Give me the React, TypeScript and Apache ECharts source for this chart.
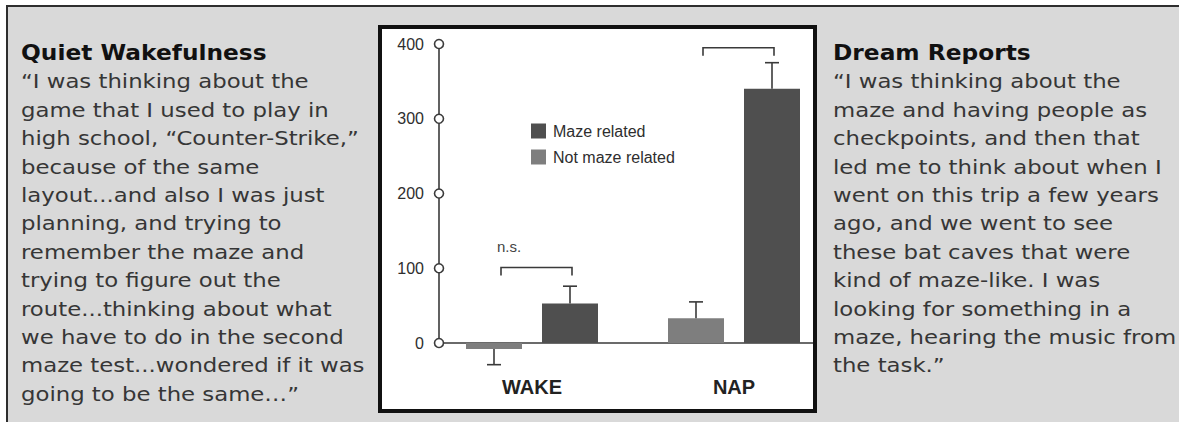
import React, { useEffect, useRef } from "react";
import * as echarts from "echarts";

// ---------- data ----------
const CATEGORIES = ["WAKE", "NAP"];
const SERIES_NAMES = ["Not maze related", "Maze related"];
const NOT_MAZE = [-8, 33];
const NOT_MAZE_ERR = [21, 22];
const MAZE = [53, 340];
const MAZE_ERR = [23, 35];
const Y_TICKS = [0, 100, 200, 300, 400];
const BRACKET_CATS = [0, 1];
const BRACKET_LEVELS = [101, 395];
const BRACKET_LABELS = ["n.s.", ""];

const LEFT_TITLE = "Quiet Wakefulness";
const LEFT_LINES = [
  "\u201CI was thinking about the",
  "game that I used to play in",
  "high school, \u201CCounter-Strike,\u201D",
  "because of the same",
  "layout...and also I was just",
  "planning, and trying to",
  "remember the maze and",
  "trying to figure out the",
  "route...thinking about what",
  "we have to do in the second",
  "maze test...wondered if it was",
  "going to be the same\u2026\u201D",
];
const RIGHT_TITLE = "Dream Reports";
const RIGHT_LINES = [
  "\u201CI was thinking about the",
  "maze and having people as",
  "checkpoints, and then that",
  "led me to think about when I",
  "went on this trip a few years",
  "ago, and we went to see",
  "these bat caves that were",
  "kind of maze-like. I was",
  "looking for something in a",
  "maze, hearing the music from",
  "the task.\u201D",
];

// ---------- styles ----------
const W = 1179;
const H = 422;
const BAR_WIDTH = 56;
const BAR_GAP_PX = 20;
const BAR_OFFSET = (BAR_WIDTH + BAR_GAP_PX) / 2;
const MAZE_COLOR = "#4f4f4f";
const NOT_MAZE_COLOR = "#7e7e7e";
const AXIS_COLOR = "#3a3a3a";
const BG_GRAY = "#d9d9d9";
const TEXT_FONT = "DejaVu Sans";
const CHART_FONT = "Liberation Sans";
const LINE_H = 28.4;
const BODY_STRETCH = 1.2;
const TITLE_STRETCH = 1.06;

function errorBarSeries(values: number[], errs: number[], offset: number) {
  return {
    type: "custom",
    xAxisIndex: 1,
    yAxisIndex: 1,
    z: 5,
    silent: true,
    data: values.map((v, i) => [i, v, errs[i]]),
    renderItem: (_params: any, api: any) => {
      const i = api.value(0);
      const v = api.value(1);
      const e = api.value(2);
      const sign = v < 0 ? -1 : 1;
      const p0 = api.coord([i, v]);
      const p1 = api.coord([i, v + sign * e]);
      const x = p0[0] + offset;
      return {
        type: "group",
        children: [
          {
            type: "line",
            shape: { x1: x, y1: p0[1], x2: x, y2: p1[1] },
            style: { stroke: AXIS_COLOR, lineWidth: 1.6 },
          },
          {
            type: "line",
            shape: { x1: x - 7, y1: p1[1], x2: x + 7, y2: p1[1] },
            style: { stroke: AXIS_COLOR, lineWidth: 1.6 },
          },
        ],
      };
    },
  };
}

function textBlock(x: number, title: string, lines: string[]) {
  return [
    {
      type: "text",
      z: 10,
      x,
      y: 52,
      scaleX: TITLE_STRETCH,
      style: {
        text: title,
        font: `bold 22px "${TEXT_FONT}"`,
        fill: "#111111",
        verticalAlign: "middle",
      },
    },
    {
      type: "text",
      z: 10,
      x,
      y: 82 - LINE_H / 2,
      scaleX: BODY_STRETCH,
      style: {
        text: lines.join("\n"),
        font: `19px "${TEXT_FONT}"`,
        fill: "#363636",
        lineHeight: LINE_H,
        verticalAlign: "top",
      },
    },
  ];
}

export default function App() {
  const ref = useRef<HTMLDivElement>(null);

  useEffect(() => {
    if (!ref.current) return;
    const chart = echarts.init(ref.current, undefined, { renderer: "svg" });

    const option: any = {
      animation: false,
      backgroundColor: "#ffffff",
      graphic: [
        {
          type: "rect",
          z: -10,
          silent: true,
          shape: { x: 7, y: 6, width: W + 40, height: H + 40 },
          style: { fill: BG_GRAY },
        },
        {
          type: "line",
          z: -8,
          silent: true,
          shape: { x1: 6, y1: 6, x2: W + 10, y2: 6 },
          style: { stroke: "#2e2e2e", lineWidth: 2 },
        },
        {
          type: "line",
          z: -8,
          silent: true,
          shape: { x1: 7, y1: 5, x2: 7, y2: H + 10 },
          style: { stroke: "#2e2e2e", lineWidth: 2 },
        },
        {
          type: "rect",
          z: -9,
          silent: true,
          shape: { x: 380, y: 27, width: 435, height: 383 },
          style: { fill: "#ffffff" },
        },
        {
          type: "rect",
          z: 100,
          silent: true,
          shape: { x: 380, y: 27, width: 435, height: 384 },
          style: { fill: "none", stroke: "#111111", lineWidth: 4 },
        },
        ...textBlock(21, LEFT_TITLE, LEFT_LINES),
        ...textBlock(833, RIGHT_TITLE, RIGHT_LINES),
      ],
      legend: {
        data: ["Maze related", "Not maze related"],
        orient: "vertical",
        left: 531,
        top: 123,
        padding: 0,
        itemWidth: 15,
        itemHeight: 15,
        itemGap: 10,
        icon: "rect",
        selectedMode: false,
        textStyle: {
          fontFamily: CHART_FONT,
          fontSize: 16,
          color: "#2e2e2e",
          padding: [0, 0, 0, 2],
        },
      },
      grid: [
        { left: 439, right: W - 814, top: 44, bottom: H - 343 },
        { left: 431, right: W - 835, top: 44, bottom: H - 343 },
      ],
      xAxis: [
        {
          type: "value",
          gridIndex: 0,
          min: 0,
          max: 1,
          axisLine: { show: true, onZero: false, lineStyle: { color: AXIS_COLOR, width: 1.6 } },
          axisTick: { show: false },
          axisLabel: { show: false },
          splitLine: { show: false },
        },
        {
          type: "category",
          gridIndex: 1,
          data: CATEGORIES,
          axisLine: { show: false },
          axisTick: { show: false },
          splitLine: { show: false },
          axisLabel: {
            margin: 34,
            fontFamily: CHART_FONT,
            fontSize: 20,
            fontWeight: "bold",
            color: "#222222",
          },
        },
      ],
      yAxis: [
        {
          type: "value",
          gridIndex: 0,
          min: 0,
          max: 400,
          interval: 100,
          axisLine: { show: true, lineStyle: { color: AXIS_COLOR, width: 1.6 } },
          axisTick: { show: false },
          splitLine: { show: false },
          axisLabel: {
            margin: 15,
            fontFamily: CHART_FONT,
            fontSize: 16,
            color: "#2e2e2e",
          },
        },
        {
          type: "value",
          gridIndex: 1,
          min: 0,
          max: 400,
          interval: 100,
          show: false,
          splitLine: { show: false },
        },
      ],
      series: [
        {
          name: SERIES_NAMES[0],
          type: "bar",
          xAxisIndex: 1,
          yAxisIndex: 1,
          data: NOT_MAZE,
          barWidth: BAR_WIDTH,
          barGap: `${(BAR_GAP_PX / BAR_WIDTH) * 100}%`,
          clip: false,
          z: 3,
          itemStyle: { color: NOT_MAZE_COLOR },
          silent: true,
        },
        {
          name: SERIES_NAMES[1],
          type: "bar",
          xAxisIndex: 1,
          yAxisIndex: 1,
          data: MAZE,
          barWidth: BAR_WIDTH,
          barGap: `${(BAR_GAP_PX / BAR_WIDTH) * 100}%`,
          clip: false,
          z: 3,
          itemStyle: { color: MAZE_COLOR },
          silent: true,
        },
        errorBarSeries(NOT_MAZE, NOT_MAZE_ERR, -BAR_OFFSET),
        errorBarSeries(MAZE, MAZE_ERR, BAR_OFFSET),
        {
          type: "custom",
          xAxisIndex: 1,
          yAxisIndex: 1,
          z: 5,
          silent: true,
          data: BRACKET_CATS.map((c, i) => [c, BRACKET_LEVELS[i]]),
          renderItem: (params: any, api: any) => {
            const p = api.coord([api.value(0), api.value(1)]);
            const x1 = p[0] - BAR_OFFSET + 7;
            const x2 = p[0] + BAR_OFFSET + 2;
            const y = p[1];
            const label = BRACKET_LABELS[params.dataIndex];
            const children: any[] = [
              {
                type: "polyline",
                shape: { points: [[x1, y + 8], [x1, y], [x2, y], [x2, y + 8]] },
                style: { stroke: AXIS_COLOR, lineWidth: 1.6, fill: null },
              },
            ];
            if (label) {
              children.push({
                type: "text",
                x: x1 - 4,
                y: y - 21,
                style: {
                  text: label,
                  font: `15px "${CHART_FONT}"`,
                  fill: "#444444",
                  align: "left",
                  verticalAlign: "middle",
                },
              });
            }
            return { type: "group", children };
          },
        },
        {
          type: "scatter",
          xAxisIndex: 0,
          yAxisIndex: 0,
          z: 6,
          silent: true,
          clip: false,
          symbol: "circle",
          symbolSize: 9,
          data: Y_TICKS.map((t) => [0, t]),
          itemStyle: { color: "#ffffff", borderColor: AXIS_COLOR, borderWidth: 1.6, opacity: 1 },
        },
      ],
    };

    chart.setOption(option);
    return () => chart.dispose();
  }, []);

  return (
    <div
      ref={ref}
      style={{ position: "fixed", left: 0, top: 0, width: W, height: H }}
    />
  );
}
